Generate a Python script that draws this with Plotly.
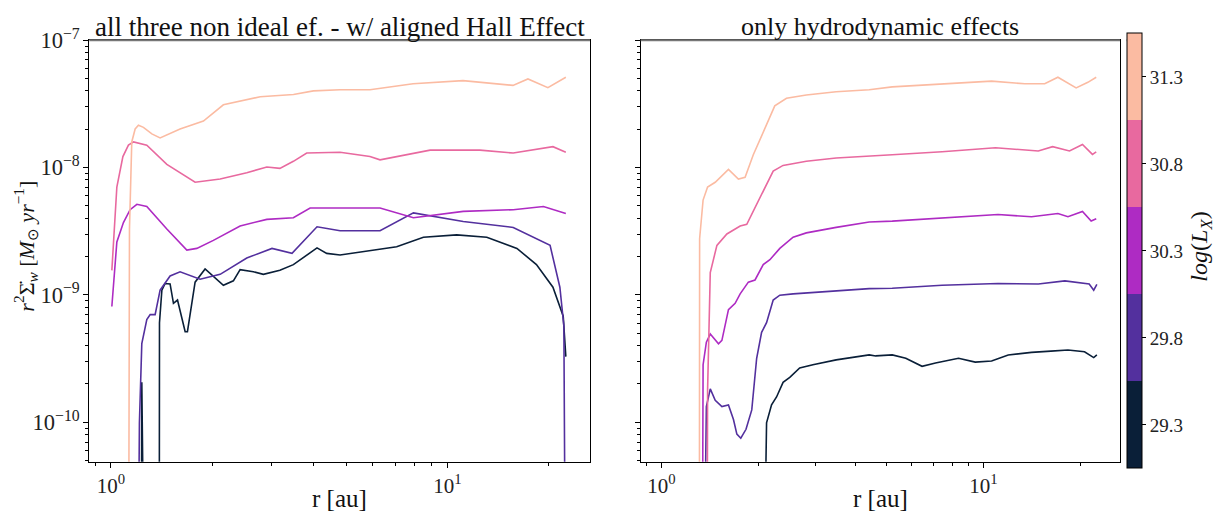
import plotly.graph_objects as go

# ---------------- data ----------------
lx_labels = ["29.3", "29.8", "30.3", "30.8", "31.3"]
lx_values = [29.3, 29.8, 30.3, 30.8, 31.3]
colors = ["#0a1f38", "#53309e", "#ae2bc3", "#e8699f", "#fbbba2"]

x_tickvals = [1, 10]
x_ticktext = ["10<sup>0</sup>", "10<sup>1</sup>"]

# left panel: all three non ideal effects (aligned Hall)
r_hall_293 = [1.23, 1.236, 1.264, 1.392, 1.395, 1.418, 1.45, 1.50, 1.535, 1.578, 1.663, 1.689,
              1.78, 1.906, 2.017, 2.16, 2.313, 2.422, 2.652, 2.84, 3.18, 3.487, 4.10, 4.38,
              4.80, 5.63, 7.07, 8.49, 10.66, 13.1, 16.1, 18.4, 20.6, 22.1, 22.5]
v_hall_293 = [1e-12, 2.06e-10, 1e-12, 1e-12, 6.05e-10, 1.09e-9, 1.23e-9, 1.22e-9, 8.59e-10, 9.12e-10,
              5.14e-10, 5.14e-10, 1.26e-9, 1.60e-9, 1.41e-9, 1.19e-9, 1.29e-9, 1.58e-9, 1.52e-9,
              1.45e-9, 1.56e-9, 1.73e-9, 2.34e-9, 2.12e-9, 2.06e-9, 2.19e-9, 2.39e-9, 2.84e-9,
              2.96e-9, 2.84e-9, 2.32e-9, 1.73e-9, 1.15e-9, 6.8e-10, 3.28e-10]

r_hall_298 = [1.20, 1.216, 1.236, 1.279, 1.309, 1.354, 1.401, 1.50, 1.606, 1.842, 2.113, 2.535,
              3.013, 3.455, 4.10, 4.80, 6.31, 7.93, 11.15, 15.7, 20.2, 21.6, 22.2, 22.5]
v_hall_298 = [1e-12, 9.9e-11, 4.14e-10, 6.41e-10, 7.0e-10, 7.0e-10, 1.09e-9, 1.41e-9, 1.52e-9,
              1.33e-9, 1.45e-9, 1.95e-9, 2.32e-9, 2.12e-9, 3.43e-9, 3.19e-9, 3.19e-9, 4.41e-9,
              3.77e-9, 3.39e-9, 2.45e-9, 1.15e-9, 5.7e-10, 1e-12]

r_hall_303 = [1.007, 1.042, 1.090, 1.141, 1.195, 1.279, 1.467, 1.682, 1.801, 2.017, 2.422, 2.908,
              3.487, 3.91, 4.80, 6.31, 7.93, 11.15, 15.7, 19.3, 22.5]
v_hall_303 = [8.11e-10, 2.61e-9, 3.70e-9, 4.67e-9, 5.15e-9, 4.95e-9, 3.29e-9, 2.25e-9, 2.32e-9,
              2.68e-9, 3.48e-9, 3.92e-9, 4.04e-9, 4.81e-9, 4.81e-9, 4.81e-9, 4.04e-9, 4.53e-9,
              4.67e-9, 4.95e-9, 4.36e-9]

r_hall_308 = [1.007, 1.042, 1.086, 1.128, 1.168, 1.279, 1.467, 1.78, 2.113, 2.535, 2.908, 3.18,
              3.487, 3.82, 4.80, 5.89, 6.31, 8.89, 12.5, 15.7, 20.6, 22.5]
v_hall_308 = [1.56e-9, 7.03e-9, 1.22e-8, 1.50e-8, 1.59e-8, 1.50e-8, 1.06e-8, 7.67e-9, 8.13e-9,
              9.12e-9, 1.01e-8, 9.86e-9, 1.12e-8, 1.30e-8, 1.32e-8, 1.22e-8, 1.15e-8, 1.37e-8,
              1.37e-8, 1.30e-8, 1.46e-8, 1.32e-8]

r_hall_313 = [1.128, 1.136, 1.154, 1.181, 1.208, 1.250, 1.324, 1.401, 1.606, 1.884, 2.16, 2.78,
              3.49, 4.0, 4.8, 5.89, 7.91, 11.13, 15.67, 17.36, 19.9, 22.5]
v_hall_313 = [1e-12, 3.29e-9, 1.59e-8, 2.01e-8, 2.15e-8, 2.07e-8, 1.84e-8, 1.71e-8, 2.01e-8,
              2.32e-8, 3.11e-8, 3.60e-8, 3.75e-8, 4.0e-8, 4.09e-8, 4.09e-8, 4.55e-8, 4.82e-8,
              4.42e-8, 4.97e-8, 4.24e-8, 5.12e-8]

# right panel: only hydrodynamic effects
r_hydro_293 = [2.063, 2.122, 2.199, 2.279, 2.388, 2.505, 2.689, 2.955, 3.49, 4.42, 4.63, 5.21,
               5.74, 6.45, 7.10, 8.37, 9.43, 10.6, 11.94, 14.1, 16.2, 18.3, 20.6, 22.0, 22.5]
v_hydro_293 = [1e-12, 9.9e-11, 1.37e-10, 1.58e-10, 2.06e-10, 2.25e-10, 2.67e-10, 2.83e-10,
               3.09e-10, 3.38e-10, 3.32e-10, 3.38e-10, 3.18e-10, 2.75e-10, 2.92e-10, 3.18e-10,
               2.97e-10, 3.03e-10, 3.38e-10, 3.54e-10, 3.62e-10, 3.69e-10, 3.58e-10, 3.22e-10,
               3.38e-10]

r_hydro_298 = [1.348, 1.380, 1.419, 1.470, 1.542, 1.616, 1.675, 1.716, 1.765, 1.832, 1.909, 1.977,
               2.048, 2.122, 2.225, 2.333, 2.565, 3.10, 4.42, 5.21, 7.44, 11.1, 14.8, 17.9,
               19.6, 21.3, 22.0, 22.5]
v_hydro_298 = [1e-12, 1.33e-10, 1.83e-10, 1.49e-10, 1.33e-10, 1.37e-10, 1.05e-10, 8.07e-11,
               7.5e-11, 8.81e-11, 1.25e-10, 3.18e-10, 5.08e-10, 6.05e-10, 9.12e-10, 9.95e-10,
               1.02e-9, 1.05e-9, 1.12e-9, 1.13e-9, 1.19e-9, 1.23e-9, 1.22e-9, 1.29e-9, 1.26e-9,
               1.22e-9, 1.09e-9, 1.21e-9]

r_hydro_303 = [1.338, 1.348, 1.380, 1.419, 1.505, 1.542, 1.616, 1.695, 1.757, 1.863, 1.954,
               2.072, 2.173, 2.333, 2.565, 2.82, 3.49, 4.42, 5.21, 7.44, 11.1, 14.1, 17.03,
               18.3, 20.3, 21.6, 22.4]
v_hydro_303 = [1e-12, 2.83e-10, 4.26e-10, 4.93e-10, 4.14e-10, 4.40e-10, 7.66e-10, 8.59e-10,
               1.02e-9, 1.26e-9, 1.31e-9, 1.73e-9, 1.89e-9, 2.32e-9, 2.84e-9, 3.07e-9, 3.39e-9,
               3.74e-9, 3.80e-9, 4.04e-9, 4.28e-9, 4.11e-9, 4.36e-9, 4.11e-9, 4.53e-9, 3.80e-9,
               3.96e-9]

r_hydro_308 = [1.386, 1.392, 1.419, 1.488, 1.598, 1.757, 1.842, 1.93, 2.072, 2.225, 2.388, 2.82,
               3.49, 4.42, 5.21, 7.44, 10.9, 14.8, 16.4, 18.5, 20.3, 21.8, 22.4]
v_hydro_308 = [1e-12, 1.78e-10, 1.50e-9, 2.45e-9, 3.01e-9, 3.48e-9, 3.59e-9, 4.53e-9, 6.62e-9,
               9.39e-9, 1.04e-8, 1.12e-8, 1.19e-8, 1.24e-8, 1.26e-8, 1.33e-8, 1.43e-8, 1.35e-8,
               1.46e-8, 1.35e-8, 1.52e-8, 1.27e-8, 1.33e-8]

r_hydro_313 = [1.312, 1.315, 1.348, 1.392, 1.470, 1.616, 1.735, 1.82, 1.93, 2.048, 2.147, 2.25,
               2.447, 2.82, 3.49, 4.42, 5.21, 7.44, 10.6, 13.45, 15.5, 17.03, 19.4, 21.1, 22.4]
v_hydro_313 = [1e-12, 2.76e-9, 5.56e-9, 7.03e-9, 7.67e-9, 9.68e-9, 8.13e-9, 8.38e-9, 1.26e-8,
               1.79e-8, 2.39e-8, 3.05e-8, 3.50e-8, 3.71e-8, 3.94e-8, 4.09e-8, 4.30e-8, 4.55e-8,
               4.77e-8, 4.55e-8, 4.55e-8, 5.12e-8, 4.22e-8, 4.67e-8, 5.12e-8]

hall_r = [r_hall_293, r_hall_298, r_hall_303, r_hall_308, r_hall_313]
hall_v = [v_hall_293, v_hall_298, v_hall_303, v_hall_308, v_hall_313]
hydro_r = [r_hydro_293, r_hydro_298, r_hydro_303, r_hydro_308, r_hydro_313]
hydro_v = [v_hydro_293, v_hydro_298, v_hydro_303, v_hydro_308, v_hydro_313]

title_left = "all three non ideal ef. - w/ aligned Hall Effect"
title_right = "only hydrodynamic effects"
x_title = "r [au]"
y_title = "<i>r</i><sup>2</sup>Σ̇<sub><i>w</i></sub> [<i>M</i><sub>⊙</sub> <i>yr</i><sup>−1</sup>]"
cb_title = "<i>log</i>(<i>L</i><sub><i>X</i></sub>)"

# ---------------- figure ----------------
W, H = 1223, 517
FONT = "Liberation Serif"
fig = go.Figure()

for i in range(5):
    fig.add_trace(go.Scatter(x=hall_r[i], y=hall_v[i], mode="lines",
                             line=dict(color=colors[i], width=1.6),
                             showlegend=False, xaxis="x", yaxis="y"))
    fig.add_trace(go.Scatter(x=hydro_r[i], y=hydro_v[i], mode="lines",
                             line=dict(color=colors[i], width=1.6),
                             showlegend=False, xaxis="x2", yaxis="y2"))

# discrete colorscale
n = len(colors)
cscale = []
for i, c in enumerate(colors):
    cscale.append([i / n, c])
    cscale.append([(i + 1) / n, c])

step = lx_values[1] - lx_values[0]
fig.add_trace(go.Scatter(
    x=[None], y=[None], mode="markers", showlegend=False, xaxis="x2", yaxis="y2",
    marker=dict(color=[lx_values[0]], colorscale=cscale,
                cmin=lx_values[0] - step / 2, cmax=lx_values[-1] + step / 2,
                showscale=True,
                colorbar=dict(
                    x=1126.7 / W, xanchor="left", xpad=0,
                    y=1 - 242.5 / H, yanchor="middle", ypad=0,
                    len=435, lenmode="pixels",
                    thickness=15, thicknessmode="pixels",
                    outlinewidth=1, outlinecolor="black",
                    tickvals=lx_values, ticktext=lx_labels,
                    ticks="outside", ticklen=4, tickcolor="black",
                    tickfont=dict(family=FONT, size=19, color="#222"),
                ))))

xdom1 = [89.3 / W, 590 / W]
xdom2 = [640.7 / W, 1120 / W]
ydom = [1 - 460 / H, 1 - 25 / H]
xrange_ = [-0.064, 1.424]
yrange_ = [-10.31, -7.0]

def xaxis(dom, anchor):
    return dict(domain=dom, type="log", range=xrange_, anchor=anchor,
                showline=True, linecolor="black", linewidth=1, mirror=True,
                ticks="outside", ticklen=5, tickcolor="black",
                tickmode="array", tickvals=x_tickvals, ticktext=x_ticktext,
                showgrid=False, zeroline=False,
                tickfont=dict(family=FONT, size=21, color="#222"),
                minor=dict(ticks="outside", ticklen=3, tickcolor="black", dtick="D1",
                           showgrid=False))

def yaxis(anchor, labels):
    return dict(domain=ydom, type="log", range=yrange_, anchor=anchor,
                showline=True, linecolor="black", linewidth=1, mirror=True,
                ticks="outside", ticklen=5, tickcolor="black", dtick=1,
                exponentformat="power", showgrid=False, zeroline=False,
                showticklabels=labels,
                tickfont=dict(family=FONT, size=18, color="#222"),
                minor=dict(ticks="outside", ticklen=3, tickcolor="black", dtick="D1",
                           showgrid=False))

fig.update_layout(
    width=W, height=H, margin=dict(l=0, r=0, t=0, b=0),
    paper_bgcolor="white", plot_bgcolor="white",
    font=dict(family=FONT, color="#222"),
    xaxis=xaxis(xdom1, "y"), yaxis=yaxis("x", True),
    xaxis2=xaxis(xdom2, "y2"), yaxis2=yaxis("x2", False),
)

# gray top edges as in the reference
for x0, x1 in (xdom1, xdom2, [1126.7 / W, 1141.7 / W]):
    fig.add_shape(type="line", xref="paper", yref="paper", x0=x0, x1=x1,
                  y0=ydom[1], y1=ydom[1], line=dict(color="#777", width=2))

ann = [
    dict(text=title_left, x=(xdom1[0] + xdom1[1]) / 2, y=1 - 11 / H, size=27, angle=0),
    dict(text=title_right, x=(xdom2[0] + xdom2[1]) / 2, y=1 - 11 / H, size=26, angle=0),
    dict(text=x_title, x=(xdom1[0] + xdom1[1]) / 2, y=1 - 498 / H, size=25, angle=0),
    dict(text=x_title, x=(xdom2[0] + xdom2[1]) / 2, y=1 - 498 / H, size=25, angle=0),
    dict(text=y_title, x=26 / W, y=1 - 238 / H, size=22, angle=-90),
    dict(text=cb_title, x=1201 / W, y=1 - 238 / H, size=24, angle=-90),
]
for a in ann:
    fig.add_annotation(text=a["text"], x=a["x"], y=a["y"], xref="paper", yref="paper",
                       xanchor="center", yanchor="middle", showarrow=False,
                       textangle=a["angle"], font=dict(family=FONT, size=a["size"], color="#111"))

fig.write_html("out.html")
